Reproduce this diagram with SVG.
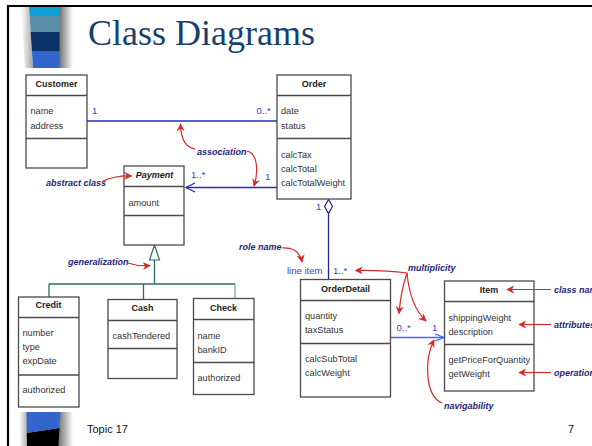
<svg xmlns="http://www.w3.org/2000/svg" width="592" height="446" viewBox="0 0 592 446">
  <defs>
    <style>
      .box { fill: #ffffff; stroke: #4a4a4a; stroke-width: 1.3; }
      .div { stroke: #4a4a4a; stroke-width: 1.3; }
      .hdr { font-family: "Liberation Sans", Arial, sans-serif; font-size: 9px; font-weight: bold; fill: #1a1a1a; text-anchor: middle; }
      .hdri { font-style: italic; }
      .txt { font-family: "Liberation Sans", Arial, sans-serif; font-size: 9.2px; fill: #333333; }
      .mult { font-family: "Liberation Sans", Arial, sans-serif; font-size: 9.5px; fill: #3a3ad6; }
      .note { font-family: "Liberation Sans", Arial, sans-serif; font-size: 9px; font-weight: bold; font-style: italic; fill: #262675; }
      .assoc { fill: none; stroke: #2828cc; stroke-width: 1.3; }
      .gen { fill: none; stroke: #2b6b66; stroke-width: 1.3; }
      .callout { fill: none; stroke: #d42a2a; stroke-width: 1.2; marker-end: url(#redhead); }
    </style>
    <marker id="redhead" viewBox="0 0 10 10" refX="9" refY="5" markerWidth="8" markerHeight="8" markerUnits="userSpaceOnUse" orient="auto">
      <path d="M0,0 L10,5 L0,10 L3,5 Z" fill="#d42a2a"/>
    </marker>
    <linearGradient id="shadeR" x1="0" y1="0" x2="1" y2="0">
      <stop offset="0" stop-color="#6f6f6f"/>
      <stop offset="1" stop-color="#ffffff"/>
    </linearGradient>
    <linearGradient id="shadeL" x1="0" y1="0" x2="1" y2="0">
      <stop offset="0" stop-color="#ffffff"/>
      <stop offset="1" stop-color="#a8a8a8"/>
    </linearGradient>
  </defs>

  <rect x="0" y="0" width="592" height="446" fill="#ffffff"/>

  <!-- slide frame -->
  <g id="frame">
    <line x1="7" y1="6" x2="592" y2="6" stroke="#000" stroke-width="2.2"/>
    <line x1="8" y1="5" x2="8" y2="446" stroke="#000" stroke-width="2.2"/>
  </g>

  <!-- striped bar, top left -->
  <g id="bar-top">
    <polygon points="21,7 29,7 33,68 25,68" fill="url(#shadeL)"/>
    <polygon points="59,7 73,7 73,68 59,68" fill="url(#shadeR)"/>
    <polygon points="29,7 59.5,7 59.5,16 29.6,16" fill="#0e9fd6"/>
    <polygon points="29.6,16 59.5,16 59.5,32 30.6,32" fill="#5a8fa8"/>
    <polygon points="30.6,32 59.5,32 59.5,51 31.9,51" fill="#0c346a"/>
    <polygon points="31.9,51 59.5,51 59.5,68 33,68" fill="#3366cc"/>
  </g>

  <!-- striped bar, bottom left -->
  <g id="bar-bottom">
    <polygon points="19,412 27,412 28,446 20,446" fill="url(#shadeL)"/>
    <polygon points="60,412 73,412 73,446 58,446" fill="url(#shadeR)"/>
    <polygon points="26.5,412 60.5,412 59.5,428 26.8,433" fill="#3366cc"/>
    <polygon points="26.8,433 59.5,428 58.5,446 27,446" fill="#000000"/>
  </g>

  <text x="88" y="45" font-family="'Liberation Serif', 'Times New Roman', serif" font-size="36" fill="#173f6f">Class Diagrams</text>

  <!-- connectors -->
  <g id="connectors">
    <!-- Customer - Order -->
    <line class="assoc" x1="87" y1="121" x2="277" y2="121"/>
    <!-- Order -> Payment -->
    <line class="assoc" x1="277" y1="187.5" x2="186" y2="187.5"/>
    <polyline class="assoc" points="195,183 186,187.5 195,192"/>
    <!-- Order <>- OrderDetail -->
    <polygon points="328.5,199.5 332.5,206.5 328.5,213.5 324.5,206.5" fill="#ffffff" stroke="#22229a" stroke-width="1.2"/>
    <line x1="328.5" y1="213.5" x2="328.5" y2="280" stroke="#22229a" stroke-width="1.3"/>
    <!-- OrderDetail -> Item -->
    <line x1="391" y1="337.5" x2="444" y2="337.5" stroke="#4466ff" stroke-width="1.3"/>
    <polyline points="435,334 444,337.5 435,341" fill="none" stroke="#4466ff" stroke-width="1.3"/>
    <!-- generalization -->
    <polygon points="154.5,245 149.5,260 159.5,260" fill="#ffffff" stroke="#2b6b66" stroke-width="1.2"/>
    <line class="gen" x1="154.5" y1="260" x2="154.5" y2="284"/>
    <line class="gen" x1="49" y1="284" x2="235" y2="284"/>
    <line class="gen" x1="49" y1="284" x2="49" y2="297"/>
    <line class="gen" x1="143.5" y1="284" x2="143.5" y2="299"/>
    <line x1="235" y1="284" x2="235" y2="298" stroke="#7fa8a8" stroke-width="1.3"/>

    <!-- multiplicities and role -->
    <text class="mult" x="92" y="114">1</text>
    <text class="mult" x="256.5" y="114">0..*</text>
    <text class="mult" x="191" y="178">1..*</text>
    <text class="mult" x="265" y="179.5">1</text>
    <text class="mult" x="316" y="210" fill="#22229a">1</text>
    <text class="mult" x="287" y="273.5" fill="#3030c0">line item</text>
    <text class="mult" x="333" y="273.5" fill="#3030c0">1..*</text>
    <text class="mult" x="396.5" y="331" fill="#4466ff">0..*</text>
    <text class="mult" x="432" y="331" fill="#4466ff">1</text>
  </g>

  <!-- classes -->
  <g id="customer">
    <rect class="box" x="26" y="75" width="61" height="93"/>
    <line class="div" x1="26" y1="95.5" x2="87" y2="95.5"/>
    <line class="div" x1="26" y1="138.5" x2="87" y2="138.5"/>
    <text class="hdr" x="56.5" y="87">Customer</text>
    <text class="txt" x="30.5" y="114">name</text>
    <text class="txt" x="30.5" y="128.5">address</text>
  </g>

  <g id="order">
    <rect class="box" x="277" y="75" width="74" height="124"/>
    <line class="div" x1="277" y1="95.5" x2="351" y2="95.5"/>
    <line class="div" x1="277" y1="138.5" x2="351" y2="138.5"/>
    <text class="hdr" x="314" y="87">Order</text>
    <text class="txt" x="281" y="114">date</text>
    <text class="txt" x="281" y="128.5">status</text>
    <text class="txt" x="281" y="157.5">calcTax</text>
    <text class="txt" x="281" y="171.5">calcTotal</text>
    <text class="txt" x="281" y="185.5">calcTotalWeight</text>
  </g>

  <g id="payment">
    <rect class="box" x="124" y="166" width="60" height="79"/>
    <line class="div" x1="124" y1="186.5" x2="184" y2="186.5"/>
    <line class="div" x1="124" y1="215.5" x2="184" y2="215.5"/>
    <text class="hdr hdri" x="154.5" y="177.5">Payment</text>
    <text class="txt" x="128.5" y="205.5">amount</text>
  </g>

  <g id="credit">
    <rect class="box" x="18.5" y="297" width="60.5" height="110"/>
    <line class="div" x1="18.5" y1="317.5" x2="79" y2="317.5"/>
    <line class="div" x1="18.5" y1="375" x2="79" y2="375"/>
    <text class="hdr" x="48.5" y="307.5">Credit</text>
    <text class="txt" x="22.5" y="336">number</text>
    <text class="txt" x="22.5" y="350">type</text>
    <text class="txt" x="22.5" y="364">expDate</text>
    <text class="txt" x="22.5" y="393">authorized</text>
  </g>

  <g id="cash">
    <rect class="box" x="108" y="299.5" width="69" height="79"/>
    <line class="div" x1="108" y1="320.5" x2="177" y2="320.5"/>
    <line class="div" x1="108" y1="348.5" x2="177" y2="348.5"/>
    <text class="hdr" x="142.5" y="311">Cash</text>
    <text class="txt" x="112.5" y="339">cashTendered</text>
  </g>

  <g id="check">
    <rect class="box" x="193.5" y="298.5" width="60.5" height="96"/>
    <line class="div" x1="193.5" y1="319.5" x2="254" y2="319.5"/>
    <line class="div" x1="193.5" y1="362.5" x2="254" y2="362.5"/>
    <text class="hdr" x="223.5" y="310.5">Check</text>
    <text class="txt" x="197.5" y="338.5">name</text>
    <text class="txt" x="197.5" y="352.5">bankID</text>
    <text class="txt" x="197.5" y="381">authorized</text>
  </g>

  <g id="orderdetail">
    <rect class="box" x="300.5" y="279.5" width="90" height="117.5"/>
    <line class="div" x1="300.5" y1="300.5" x2="390.5" y2="300.5"/>
    <line class="div" x1="300.5" y1="343.5" x2="390.5" y2="343.5"/>
    <text class="hdr" x="345.5" y="291.5">OrderDetail</text>
    <text class="txt" x="305" y="319">quantity</text>
    <text class="txt" x="305" y="333">taxStatus</text>
    <text class="txt" x="305" y="362">calcSubTotal</text>
    <text class="txt" x="305" y="376">calcWeight</text>
  </g>

  <g id="item">
    <rect class="box" x="444.5" y="281" width="89.5" height="110"/>
    <line class="div" x1="444.5" y1="301.5" x2="534" y2="301.5"/>
    <line class="div" x1="444.5" y1="344.5" x2="534" y2="344.5"/>
    <text class="hdr" x="489" y="292.5">Item</text>
    <text class="txt" x="448.5" y="320.5">shippingWeight</text>
    <text class="txt" x="448.5" y="334.5">description</text>
    <text class="txt" x="448.5" y="362.5">getPriceForQuantity</text>
    <text class="txt" x="448.5" y="377">getWeight</text>
  </g>

  <!-- callout notes -->
  <g id="notes">
    <text class="note" x="197" y="155">association</text>
    <path class="callout" d="M195,149 Q181,147 180.5,124"/>
    <path class="callout" d="M247,151 C257,153 259,170 254,186"/>

    <text class="note" x="46" y="185.5">abstract class</text>
    <path class="callout" d="M102,181.5 Q115,175.5 131.5,176"/>

    <text class="note" x="68" y="265">generalization</text>
    <path class="callout" d="M128,263 Q138,266.5 150,265.5"/>

    <text class="note" x="239" y="250">role name</text>
    <path class="callout" d="M282,248 Q299,247 302,262"/>

    <text class="note" x="408" y="270.5">multiplicity</text>
    <path class="callout" d="M407,273 Q385,270 355.5,270.5"/>
    <path class="callout" d="M407,273 Q401,290 399,313.5"/>
    <path class="callout" d="M407,273 Q410,306 426,321"/>

    <text class="note" x="554" y="292.5">class name</text>
    <path class="callout" d="M551,289.5 L507,289.5"/>

    <text class="note" x="554" y="327.5">attributes</text>
    <path class="callout" d="M551,324.5 L519,324.5"/>

    <text class="note" x="554" y="375.5">operations</text>
    <path class="callout" d="M551,372.5 L519,372.5"/>

    <text class="note" x="444" y="408.5">navigability</text>
    <path class="callout" d="M442,403 C425,396 424,360 434,340"/>
  </g>

  <!-- footer -->
  <text x="87" y="433" font-family="'Liberation Sans', Arial, sans-serif" font-size="11" fill="#111">Topic 17</text>
  <text x="568" y="433" font-family="'Liberation Sans', Arial, sans-serif" font-size="11" fill="#111">7</text>
</svg>
